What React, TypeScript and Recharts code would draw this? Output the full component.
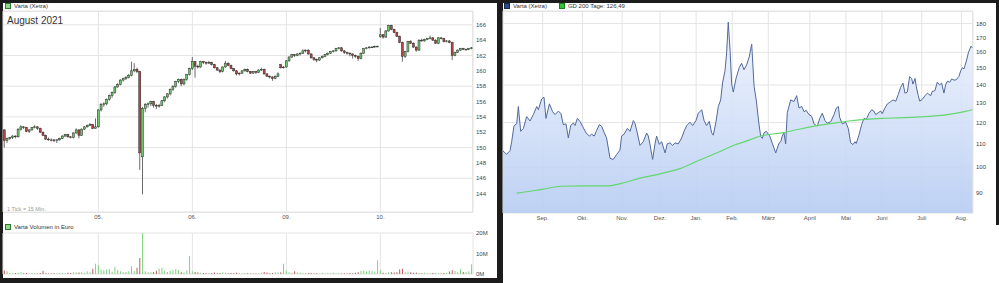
import React from 'react';
import {
  ComposedChart, BarChart, Bar, Cell, Area, Line,
  XAxis, YAxis, CartesianGrid,
} from 'recharts';

// ---- intraday (15 min candles), one array per trading day: [open, high, low, close]
type Ohlc = [number, number, number, number];

const DAY_LABELS = ['04.', '05.', '06.', '09.', '10.'];

const candles04: Ohlc[] = [
  [152.3, 152.4, 150.0, 150.9], [150.9, 151.3, 150.6, 151.2], [151.2, 151.4, 151.0, 151.3], [151.3, 151.6, 151.1, 151.5],
  [151.5, 151.6, 151.2, 151.4], [151.4, 152.5, 151.3, 152.4], [152.4, 152.9, 152.2, 152.7], [152.7, 152.8, 152.4, 152.6],
  [152.6, 152.7, 152.0, 152.1], [152.1, 152.4, 151.9, 152.3], [152.3, 152.7, 152.2, 152.6], [152.6, 152.9, 152.5, 152.7],
  [152.7, 152.8, 152.3, 152.5], [152.5, 152.6, 151.9, 152.0], [152.0, 152.1, 151.5, 151.6], [151.6, 151.7, 151.0, 151.1],
  [151.1, 151.3, 150.9, 151.0], [151.0, 151.2, 150.8, 151.0], [151.0, 151.1, 150.7, 150.9], [150.9, 151.1, 150.6, 151.0],
  [151.0, 151.3, 150.9, 151.2], [151.2, 151.6, 151.1, 151.5], [151.5, 151.8, 151.4, 151.7], [151.7, 151.8, 151.3, 151.4],
  [151.4, 151.5, 151.2, 151.3], [151.3, 152.0, 151.2, 151.9], [151.9, 152.5, 151.8, 152.3], [152.3, 152.4, 151.2, 151.6],
  [151.6, 152.5, 151.5, 152.4], [152.4, 152.8, 152.3, 152.7], [152.7, 153.0, 152.6, 152.9], [152.9, 153.2, 152.8, 153.0],
  [153.0, 153.1, 152.4, 152.5], [152.5, 153.8, 152.5, 152.7],
];

const candles05: Ohlc[] = [
  [152.7, 155.0, 152.6, 154.9], [154.9, 155.8, 154.7, 155.6], [155.6, 155.9, 155.3, 155.7], [155.7, 156.4, 155.5, 156.3],
  [156.3, 156.9, 156.1, 156.8], [156.8, 157.3, 156.5, 157.2], [157.2, 158.0, 157.0, 157.9], [157.9, 158.4, 157.8, 158.2],
  [158.2, 158.9, 158.1, 158.8], [158.8, 159.1, 158.6, 159.0], [159.0, 159.3, 158.8, 159.1], [159.1, 159.6, 159.0, 159.4],
  [159.4, 161.2, 159.3, 160.0], [160.0, 161.0, 159.8, 160.2], [160.2, 160.4, 159.7, 159.9], [159.9, 160.0, 147.1, 149.3],
  [148.8, 155.3, 143.9, 155.1], [155.1, 155.8, 154.6, 155.6], [155.6, 155.9, 155.2, 155.7], [155.7, 156.1, 155.4, 156.0],
  [156.0, 156.1, 155.2, 155.5], [155.5, 155.7, 155.0, 155.4], [155.4, 155.7, 155.2, 155.5], [155.5, 156.2, 155.4, 156.1],
  [156.1, 156.7, 155.9, 156.6], [156.6, 157.1, 156.4, 157.0], [157.0, 157.7, 156.8, 157.6], [157.6, 158.1, 157.4, 158.0],
  [158.0, 158.7, 157.8, 158.6], [158.6, 159.0, 158.4, 158.9], [158.9, 159.0, 158.0, 158.3], [158.3, 159.0, 158.1, 158.9],
  [158.9, 159.6, 158.7, 159.5], [159.5, 160.4, 159.4, 160.3],
];

const candles06: Ohlc[] = [
  [160.3, 161.8, 160.1, 161.2], [161.2, 161.3, 159.1, 160.6], [160.6, 160.8, 160.3, 160.5], [160.5, 161.3, 160.4, 161.2],
  [161.2, 161.3, 160.9, 161.1], [161.1, 161.2, 160.8, 161.0], [161.0, 161.3, 160.9, 161.1], [161.1, 161.2, 160.7, 160.8],
  [160.8, 160.9, 160.3, 160.4], [160.4, 160.5, 160.0, 160.1], [160.1, 160.2, 159.7, 159.9], [159.9, 160.6, 159.8, 160.5],
  [160.5, 161.3, 160.4, 161.0], [161.0, 161.1, 160.6, 160.7], [160.7, 160.8, 160.2, 160.3], [160.3, 160.4, 159.9, 160.0],
  [160.0, 160.1, 159.4, 159.6], [159.6, 159.8, 159.4, 159.7], [159.7, 160.1, 159.6, 160.0], [160.0, 160.3, 159.9, 160.2],
  [160.2, 160.3, 159.8, 159.9], [159.9, 160.0, 159.6, 159.7], [159.7, 160.0, 159.6, 159.9], [159.9, 160.0, 159.6, 159.8],
  [159.8, 160.2, 159.7, 160.1], [160.1, 160.4, 160.0, 160.2], [160.2, 160.3, 159.5, 159.6], [159.6, 159.7, 159.2, 159.3],
  [159.3, 159.4, 159.0, 159.2], [159.2, 159.3, 158.7, 159.0], [159.0, 159.4, 158.9, 159.3], [159.3, 159.8, 159.2, 159.6],
  [160.8, 160.9, 160.3, 160.4], [160.4, 160.6, 160.3, 160.5],
];

const candles09: Ohlc[] = [
  [160.5, 161.4, 160.4, 161.3], [161.3, 161.9, 161.2, 161.8], [161.8, 162.2, 161.7, 162.1], [162.1, 162.2, 161.8, 162.0],
  [162.0, 162.3, 161.9, 162.2], [162.2, 162.4, 162.0, 162.3], [162.3, 162.8, 162.2, 162.6], [162.6, 162.8, 162.4, 162.7],
  [162.7, 162.8, 162.1, 162.2], [162.2, 162.3, 161.6, 161.7], [161.7, 161.8, 161.3, 161.5], [161.5, 161.6, 161.1, 161.4],
  [161.4, 161.8, 161.3, 161.7], [161.7, 162.0, 161.6, 161.9], [161.9, 162.2, 161.8, 162.1], [162.1, 162.4, 162.0, 162.3],
  [162.3, 162.6, 162.2, 162.5], [162.5, 162.7, 162.4, 162.6], [162.6, 163.0, 162.5, 162.9], [162.9, 163.1, 162.8, 163.0],
  [163.0, 163.1, 162.5, 162.6], [162.6, 162.7, 162.2, 162.4], [162.4, 162.5, 162.1, 162.3], [162.3, 162.4, 161.9, 162.2],
  [162.2, 162.3, 161.6, 162.0], [162.0, 162.1, 161.7, 161.9], [161.9, 162.0, 161.3, 161.6], [161.6, 162.4, 161.5, 162.3],
  [162.3, 163.0, 162.2, 162.9], [162.9, 163.1, 162.8, 163.0], [163.0, 163.2, 162.9, 163.1], [163.1, 163.2, 163.0, 163.1],
  [163.1, 163.3, 163.0, 163.2], [163.2, 163.3, 163.1, 163.2],
];

const candles10: Ohlc[] = [
  [164.5, 165.6, 164.3, 164.7], [164.7, 164.8, 164.2, 164.4], [164.4, 165.3, 164.3, 165.2], [165.2, 166.0, 165.1, 165.9],
  [165.9, 166.0, 165.3, 165.4], [165.4, 165.5, 164.9, 165.0], [165.0, 165.1, 164.4, 164.5], [164.5, 164.6, 163.6, 163.7],
  [163.7, 163.8, 161.2, 161.9], [161.9, 162.6, 161.7, 162.5], [162.5, 163.9, 162.4, 163.8], [163.8, 164.0, 163.5, 163.6],
  [163.6, 163.7, 163.0, 163.1], [163.1, 163.2, 162.5, 162.7], [162.7, 164.1, 162.6, 164.0], [164.0, 164.2, 163.8, 163.9],
  [163.9, 164.2, 163.8, 164.1], [164.1, 164.3, 164.0, 164.2], [164.2, 164.6, 164.1, 164.3], [164.3, 164.4, 163.9, 164.0],
  [164.0, 164.1, 163.5, 163.6], [163.6, 164.4, 163.5, 164.3], [164.3, 164.4, 164.1, 164.2], [164.2, 164.3, 163.7, 163.8],
  [163.8, 164.0, 163.7, 163.9], [163.9, 164.0, 163.6, 163.7], [163.7, 163.8, 161.4, 162.0], [162.0, 162.5, 161.9, 162.4],
  [162.4, 162.8, 162.3, 162.7], [162.7, 163.0, 162.6, 162.9], [162.9, 163.0, 162.7, 162.8], [162.8, 162.9, 162.7, 162.8],
  [162.8, 163.0, 162.7, 162.9], [162.9, 163.1, 162.8, 163.0],
];

// volume in million euro, one value per candle
const vol04 = [1.7, 1.4, 0.5, 0.4, 0.5, 0.6, 0.8, 0.4, 0.5, 0.4, 0.5, 0.4, 0.3, 0.5, 1.6, 0.4, 0.3, 0.5, 0.4, 0.4, 0.5, 0.5, 0.4, 0.6, 0.5, 0.9, 0.8, 0.7, 1.0, 0.6, 1.3, 0.8, 2.6, 5.0];
const vol05 = [4.3, 2.2, 1.8, 2.2, 2.5, 1.2, 3.5, 2.0, 1.3, 0.8, 1.0, 1.3, 3.8, 1.5, 3.0, 7.8, 20.0, 1.4, 0.9, 0.9, 1.0, 1.6, 2.7, 3.0, 1.6, 1.0, 1.6, 2.0, 2.5, 1.9, 0.8, 0.7, 1.8, 8.8];
const vol06 = [1.4, 1.0, 0.7, 0.6, 0.5, 0.4, 0.5, 0.5, 0.7, 0.4, 0.5, 0.9, 0.6, 0.4, 0.5, 0.4, 0.6, 0.5, 0.3, 0.4, 0.4, 0.3, 0.5, 0.3, 0.4, 0.6, 1.0, 0.7, 0.4, 0.5, 0.9, 0.8, 0.8, 5.0];
const vol09 = [1.6, 0.9, 0.6, 1.4, 0.9, 0.6, 0.4, 0.5, 0.4, 0.5, 0.3, 0.4, 0.3, 0.5, 0.3, 0.4, 0.3, 0.6, 0.3, 0.4, 0.3, 0.4, 0.3, 0.5, 0.4, 0.6, 0.9, 1.5, 1.6, 1.2, 1.8, 1.6, 1.2, 6.7];
const vol10 = [2.0, 0.6, 0.5, 0.9, 0.8, 0.7, 0.9, 2.3, 2.6, 1.0, 1.2, 0.8, 0.6, 0.7, 0.5, 0.4, 0.6, 0.3, 0.4, 0.5, 0.3, 0.4, 0.3, 0.5, 0.6, 1.2, 1.8, 1.5, 0.9, 2.3, 1.0, 0.8, 1.3, 4.8];

const PRICE_TICKS = [144, 146, 148, 150, 152, 154, 156, 158, 160, 162, 164, 166];
const VOLUME_TICKS = [0, 10, 20];

// ---- one year, daily closes; x = trading-day index
const MONTHS = ['Sep.', 'Okt.', 'Nov.', 'Dez.', 'Jan.', 'Feb.', 'März', 'April', 'Mai', 'Juni', 'Juli', 'Aug.'];
const MONTH_START = [22, 44, 66, 87, 107, 127, 147, 170, 190, 210, 232, 254];
const LOG_TICKS = [90, 100, 110, 120, 130, 140, 150, 160, 170, 180];

const yearClose: [number, number][] = [
  [0, 106.9], [2, 105.4], [3.9, 107], [4.8, 111], [6.1, 118.5], [7.6, 119.5], [8.5, 128.2], [9.8, 115.8],
  [11.3, 117.2], [13.1, 123], [15, 120.8], [16.8, 124], [18.7, 128.2], [19.6, 126.5], [21.4, 132.2], [22.7, 133.2],
  [23.8, 122.1], [25.7, 129.6], [27.5, 125.5], [28.8, 124], [30.7, 125.8], [32.1, 124.5], [33.4, 119], [34.9, 119.4],
  [36.2, 112.7], [37.5, 118.6], [39, 119.8], [39.9, 118.6], [41.2, 122.1], [42.7, 120.5], [44.1, 118.2], [46, 115.1],
  [47.8, 113.6], [49.1, 114.4], [50.6, 113.6], [51.9, 116.3], [53.4, 119], [54.7, 118.2], [56.1, 115.1], [57.4, 112.7],
  [59.3, 103.7], [61.1, 103.2], [63, 105.4], [64.8, 107.2], [65.7, 113.6], [67, 114.4], [68.9, 117.2], [70.4, 115.8],
  [72.2, 121], [73.1, 119.7], [74.4, 115.1], [75.9, 109.3], [77.7, 111], [79.6, 115], [80.5, 113.6], [81.4, 110],
  [82.9, 103.2], [84.2, 110], [85.1, 113.6], [86.6, 109.8], [87.9, 111], [89.8, 106], [91, 110], [92.5, 110.5],
  [94, 109.3], [95.3, 110.5], [97.1, 110], [99, 112.7], [100.3, 115.8], [101.8, 118.6], [103.6, 120.2], [105.1, 118.6],
  [106.9, 121], [108.2, 124.7], [110.1, 126.5], [111.4, 121], [112.8, 118.6], [114.3, 120.6], [115.6, 115.1], [116.5, 114],
  [118, 120.4], [119.3, 128.2], [120.6, 131.7], [121.7, 141.6], [123, 148.4], [123.9, 159.6], [124.8, 181], [125.8, 161.4],
  [126.7, 140.6], [127.6, 136], [129.1, 143.8], [130.9, 150.3], [132.2, 153], [133.5, 149], [135, 152], [136.4, 157],
  [137.8, 165.4], [139.1, 139.3], [140.3, 131.7], [141.8, 119.4], [142.8, 113.4], [143.7, 112.5], [144.6, 115.1], [145.9, 115.8],
  [147, 114.4], [147.8, 113.6], [149.2, 110.3], [151.1, 106], [152.9, 110.3], [153.9, 111], [154.7, 113.6], [155.7, 115.1],
  [156.6, 110], [157.5, 125], [159.4, 131.7], [161.2, 130.8], [162.7, 134], [164, 127.4], [165.5, 128.2], [166.8, 125.5],
  [168, 126.2], [169.5, 124], [171, 123.2], [172.3, 119.4], [174.1, 118.3], [175.5, 122.1], [176.9, 124.7], [178.4, 121],
  [179.7, 119.7], [181.6, 120.5], [183.4, 124], [184.7, 127.4], [185.8, 128.2], [186.5, 122.7], [188, 119.4], [189.9, 120.2],
  [191.3, 117.2], [192.6, 110.5], [193.9, 109.7], [195, 111], [195.7, 110.2], [197.2, 114], [198.7, 119], [200, 122.1],
  [201.3, 121.6], [202.8, 124.7], [204.3, 126.5], [205.5, 125.8], [206.5, 124], [207.9, 125], [209.3, 125.8], [210.1, 124.5],
  [211.6, 127.4], [212.9, 129.5], [214.8, 130.8], [216.1, 131.7], [217.6, 131], [219, 134.7], [220.3, 138.6], [221.6, 141.1],
  [222.7, 135.4], [224, 136], [225.3, 144.9], [226.4, 143.8], [227.1, 140.5], [228.3, 143.8], [229, 138.9], [230.1, 134],
  [230.9, 131], [232.3, 132], [233.8, 134], [235.1, 135.4], [236, 134.7], [237, 134], [237.8, 136.3], [239.3, 136.8],
  [240.6, 141.6], [241.9, 140], [243, 141.1], [244.3, 135.4], [245.2, 140], [246.2, 142.2], [247.5, 141.6], [248.6, 143.5],
  [249.9, 142.8], [251.1, 143], [252.6, 145], [253.6, 148.4], [254.5, 150.3], [255.4, 149.5], [256.7, 154.3], [257.8, 159.6],
  [259.3, 164.1], [260, 163],
];

const gd200: [number, number][] = [
  [7.6, 89.9], [16.8, 90.8], [22.3, 91.4], [32.5, 92.5], [44.5, 92.6], [57.4, 92.6], [65.7, 93.6], [75.9, 95.6],
  [87, 97.3], [98, 99.4], [109.1, 103], [120.2, 106.6], [127.6, 109.3], [136.8, 111.8], [141.8, 113.4], [154.7, 115.1],
  [164, 116.8], [173.2, 118.4], [182.4, 119.6], [191.7, 120.8], [200.9, 121.6], [210.1, 122.1], [219.4, 122.4], [228.6, 122.7],
  [237.8, 123.2], [247.1, 124.1], [256.3, 125.7], [260, 126.5],
];

// ---- build tables
const DAYS = [candles04, candles05, candles06, candles09, candles10];
const VOLUMES = [vol04, vol05, vol06, vol09, vol10];

const dayStart: number[] = [];
const intraday = DAYS.flatMap((day, di) => {
  const base = DAYS.slice(0, di).reduce((s, d) => s + d.length, 0);
  dayStart.push(base);
  return day.map(([o, h, l, c], k) => ({ t: base + k, o, h, l, c, v: VOLUMES[di][k] }));
});
const dayTicks = dayStart.slice(1);
const dayLabel = (t: number) => DAY_LABELS[dayStart.indexOf(t)] ?? '';

const yearData = [
  ...yearClose.map(([d, price]) => ({ d, price })),
  ...gd200.map(([d, gd]) => ({ d, gd })),
].sort((a, b) => a.d - b.d);
const monthLabel = (d: number) => MONTHS[MONTH_START.indexOf(d)] ?? '';

const UP = '#6dc86d';
const DOWN = '#b04646';
const VOL_UP = '#80d480';
const VOL_DOWN = '#c25c5c';
const GRID = '#e4e4e4';
const FONT = "'Liberation Sans', Arial, sans-serif";

const Candle = (props: any) => {
  const { x, y, width, height, payload } = props;
  if (!payload) return null;
  const { o, h, l, c } = payload;
  const top = Math.min(y, y + height);
  const hgt = Math.abs(height);
  const ratio = h > l ? hgt / (h - l) : 0;
  const yOf = (val: number) => top + (h - val) * ratio;
  const cx = x + width / 2;
  const bodyTop = yOf(Math.max(o, c));
  const bodyBot = yOf(Math.min(o, c));
  return (
    <g>
      <line x1={cx} x2={cx} y1={top} y2={top + hgt} stroke="#2b2b2b" strokeWidth={0.7} />
      <rect
        x={cx - 1}
        y={bodyTop}
        width={2}
        height={Math.max(bodyBot - bodyTop, 0.7)}
        fill={c >= o ? UP : DOWN}
        stroke="#2b2b2b"
        strokeWidth={0.5}
      />
    </g>
  );
};

const Icon = ({ fill, border }: { fill: string; border: string }) => (
  <span style={{ display: 'inline-block', width: 4, height: 4, background: fill, border: `1px solid ${border}`, marginRight: 3, verticalAlign: 'middle' }} />
);

const dark = '#1c1c1c';
const axisTick = { fontSize: 6, fill: '#444', fontFamily: FONT };

export default function App() {
  return (
    <div style={{ position: 'fixed', left: 0, top: 0, width: 999, height: 283, background: '#fff', fontFamily: FONT, overflow: 'hidden' }}>
      {/* frames */}
      <div style={{ position: 'absolute', left: 0, top: 0, width: 999, height: 3, background: dark }} />
      <div style={{ position: 'absolute', left: 0, top: 0, width: 3, height: 283, background: dark }} />
      <div style={{ position: 'absolute', left: 0, top: 278, width: 502, height: 5, background: dark }} />
      <div style={{ position: 'absolute', left: 497, top: 0, width: 6, height: 283, background: dark }} />
      <div style={{ position: 'absolute', left: 996, top: 0, width: 3, height: 225, background: dark }} />

      {/* left: intraday */}
      <div style={{ position: 'absolute', left: 5, top: 2, fontSize: 6, color: '#333', lineHeight: '8px' }}>
        <Icon fill="#8fd88f" border="#2f7a2f" />Varta (Xetra)
      </div>
      <div style={{ position: 'absolute', left: 3, top: 11, width: 469, height: 200, borderTop: `1px solid ${GRID}`, borderRight: `1px solid ${GRID}`, borderBottom: `1px solid ${GRID}` }} />
      <div style={{ position: 'absolute', left: 0, top: 0 }}>
        <ComposedChart width={497} height={230} data={intraday} margin={{ top: 11, right: 0, bottom: 0, left: 3 }}>
          <CartesianGrid stroke={GRID} strokeWidth={1} />
          <XAxis dataKey="t" ticks={dayTicks} interval={0} tickFormatter={dayLabel} height={18}
            axisLine={false} tickLine={false} tickSize={0} tickMargin={3} tick={{ ...axisTick, fill: '#555' }} />
          <YAxis orientation="right" type="number" domain={[141.6, 167.8]} ticks={PRICE_TICKS} allowDataOverflow
            width={24} axisLine={false} tickLine={false} tickSize={0} tickMargin={3}
            tick={{ ...axisTick, textAnchor: 'start' }} />
          <Bar dataKey={(d: any) => [d.l, d.h]} shape={Candle} isAnimationActive={false} />
        </ComposedChart>
      </div>
      <div style={{ position: 'absolute', left: 7, top: 15, fontSize: 10, color: '#333' }}>August 2021</div>
      <div style={{ position: 'absolute', left: 7, top: 206, fontSize: 5.5, color: '#9a9a9a' }}>1 Tick = 15 Min.</div>

      <div style={{ position: 'absolute', left: 5, top: 223, fontSize: 6, color: '#333', lineHeight: '8px' }}>
        <Icon fill="#8fd88f" border="#2f7a2f" />Varta Volumen in Euro
      </div>
      <div style={{ position: 'absolute', left: 0, top: 228 }}>
        <BarChart width={497} height={52} data={intraday} margin={{ top: 5, right: 0, bottom: 5, left: 3 }} barCategoryGap="30%">
          <CartesianGrid stroke={GRID} strokeWidth={1} />
          <XAxis dataKey="t" ticks={dayTicks} interval={0} height={1} tickFormatter={() => ''}
            tick={{ fontSize: 1 }} axisLine={false} tickLine={false} />
          <YAxis orientation="right" type="number" domain={[0, 20]} ticks={VOLUME_TICKS} allowDataOverflow
            width={24} axisLine={false} tickLine={false} tickSize={0} tickMargin={3}
            tickFormatter={(v: number) => `${v}M`} tick={{ ...axisTick, textAnchor: 'start' }} />
          <Bar dataKey="v" isAnimationActive={false}>
            {intraday.map((d) => (
              <Cell key={d.t} fill={d.c >= d.o ? VOL_UP : VOL_DOWN} />
            ))}
          </Bar>
        </BarChart>
      </div>

      {/* right: one year */}
      <div style={{ position: 'absolute', left: 504, top: 2, fontSize: 6, color: '#333', lineHeight: '8px' }}>
        <Icon fill="#2b4a86" border="#152a55" />Varta (Xetra)
        <span style={{ display: 'inline-block', width: 12 }} />
        <Icon fill="#33c433" border="#1c7f1c" />GD 200 Tage: 126,49
      </div>
      <div style={{ position: 'absolute', left: 503, top: 11, width: 469, height: 202, borderTop: `1px solid ${GRID}`, borderRight: `1px solid ${GRID}` }} />
      <div style={{ position: 'absolute', left: 502, top: 0 }}>
        <ComposedChart width={497} height={230} data={yearData} margin={{ top: 11, right: 0, bottom: 0, left: 1 }}>
          <defs>
            <linearGradient id="yearFill" x1="0" y1="0" x2="0" y2="1">
              <stop offset="0%" stopColor="#eef3fd" stopOpacity={0.85} />
              <stop offset="100%" stopColor="#b6ccf2" stopOpacity={0.9} />
            </linearGradient>
          </defs>
          <CartesianGrid stroke={GRID} strokeWidth={1} />
          <XAxis dataKey="d" type="number" domain={[0, 260.4]} ticks={MONTH_START} interval={0} tickFormatter={monthLabel}
            allowDataOverflow height={17} axisLine={false} tickLine={false} tickSize={0} tickMargin={3}
            tick={{ ...axisTick, fill: '#555' }} />
          <YAxis orientation="right" type="number" scale="log" domain={[82.9, 189.5]} ticks={LOG_TICKS} allowDataOverflow
            width={26} axisLine={false} tickLine={false} tickSize={0} tickMargin={3}
            tick={{ ...axisTick, textAnchor: 'start' }} />
          <Area type="linear" dataKey="price" connectNulls baseValue="dataMin" stroke="#52699a" strokeWidth={1}
            fill="url(#yearFill)" fillOpacity={1} dot={false} activeDot={false} isAnimationActive={false} />
          <Line type="monotone" dataKey="gd" connectNulls stroke="#63d66f" strokeWidth={1.2}
            dot={false} activeDot={false} isAnimationActive={false} />
        </ComposedChart>
      </div>
    </div>
  );
}
